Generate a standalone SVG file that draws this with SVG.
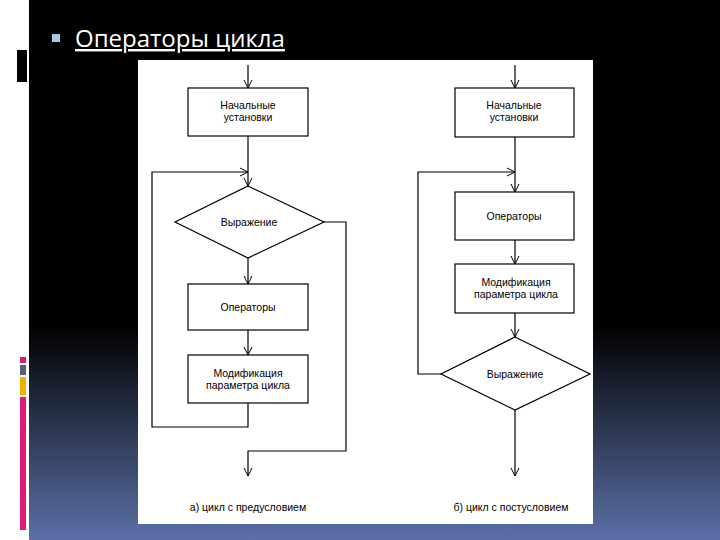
<svg xmlns="http://www.w3.org/2000/svg" width="720" height="540" viewBox="0 0 720 540">
<defs>
<linearGradient id="bg" x1="0" y1="0" x2="0" y2="1">
<stop offset="0" stop-color="#000"/>
<stop offset="0.6" stop-color="#000"/>
<stop offset="1" stop-color="#5a70a6"/>
</linearGradient>
<marker id="ar" markerWidth="10" markerHeight="10" refX="8" refY="5" orient="auto" markerUnits="userSpaceOnUse">
<path d="M0,1 L8,5 L0,9" fill="none" stroke="#000" stroke-width="1"/>
</marker>
<style>
.b{fill:#fff;stroke:#000;stroke-width:1.2}
.l{fill:none;stroke:#000;stroke-width:1.2}
.t{font-family:"Liberation Sans",Arial,sans-serif;font-size:10.5px;fill:#000;text-anchor:middle}
</style>
</defs>
<rect width="720" height="540" fill="#fff"/>
<rect x="29" y="0" width="691" height="540" fill="url(#bg)"/>
<rect x="17" y="50" width="10" height="32" fill="#000"/>
<rect x="20" y="357" width="6" height="6" fill="#d81b6a"/>
<rect x="20" y="365" width="6" height="10" fill="#556070"/>
<rect x="20" y="377" width="6" height="18" fill="#f0b400"/>
<rect x="20" y="397" width="6" height="133" fill="#e01a78"/>
<rect x="52" y="34" width="8" height="8" fill="#a8c8e8"/>
<text x="75" y="47" font-family="'Open Sans','Liberation Sans',sans-serif" font-size="24" fill="#fff" text-decoration="underline">Операторы цикла</text>
<rect x="138" y="60" width="455" height="464" fill="#fff"/>
<g id="connectors">
<line class="l" x1="248" y1="65" x2="248" y2="88" marker-end="url(#ar)"/>
<line class="l" x1="248" y1="136" x2="248" y2="186" marker-end="url(#ar)"/>
<polyline class="l" points="248,403 248,427 152,427 152,172 248,172" marker-end="url(#ar)"/>
<line class="l" x1="248" y1="258" x2="248" y2="284" marker-end="url(#ar)"/>
<line class="l" x1="248" y1="330" x2="248" y2="355" marker-end="url(#ar)"/>
<polyline class="l" points="324,222 346,222 346,451 248,451 248,476" marker-end="url(#ar)"/>
<line class="l" x1="515" y1="65" x2="515" y2="88" marker-end="url(#ar)"/>
<line class="l" x1="515" y1="137" x2="515" y2="192" marker-end="url(#ar)"/>
<polyline class="l" points="441,374 418,374 418,172 515,172" marker-end="url(#ar)"/>
<line class="l" x1="515" y1="240" x2="515" y2="264" marker-end="url(#ar)"/>
<line class="l" x1="515" y1="313" x2="515" y2="337" marker-end="url(#ar)"/>
<line class="l" x1="515" y1="410" x2="515" y2="476" marker-end="url(#ar)"/>
</g>
<g id="a_init"><rect class="b" x="188" y="88" width="120" height="48"/><text class="t" x="248" y="109">Начальные</text><text class="t" x="248" y="121">установки</text></g>
<g id="a_cond"><polygon class="b" points="248,186 324,222 248,258 175,222"/><text class="t" x="249" y="226">Выражение</text></g>
<g id="a_ops"><rect class="b" x="188" y="284" width="120" height="46"/><text class="t" x="248" y="311">Операторы</text></g>
<g id="a_mod"><rect class="b" x="188" y="355" width="120" height="48"/><text class="t" x="248" y="377">Модификация</text><text class="t" x="248" y="389">параметра цикла</text></g>
<text class="t" x="248" y="511">а) цикл с предусловием</text>
<g id="b_init"><rect class="b" x="455" y="88" width="119" height="49"/><text class="t" x="514" y="109">Начальные</text><text class="t" x="514" y="121">установки</text></g>
<g id="b_ops"><rect class="b" x="455" y="192" width="119" height="48"/><text class="t" x="514" y="220">Операторы</text></g>
<g id="b_mod"><rect class="b" x="455" y="264" width="119" height="49"/><text class="t" x="516" y="286">Модификация</text><text class="t" x="516" y="298">параметра цикла</text></g>
<g id="b_cond"><polygon class="b" points="515,337 590,374 515,410 441,374"/><text class="t" x="515" y="378">Выражение</text></g>
<text class="t" x="511" y="511">б) цикл с постусловием</text>
</svg>
